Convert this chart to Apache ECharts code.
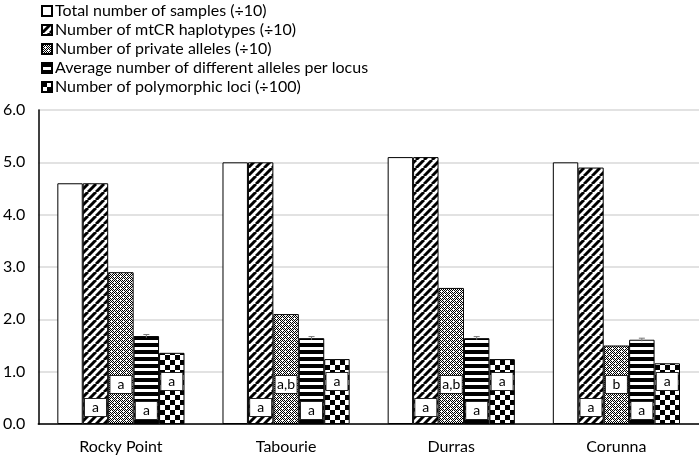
<!DOCTYPE html>
<html>
<head>
<meta charset="utf-8">
<script src="https://cdn.jsdelivr.net/npm/echarts@6/dist/echarts.min.js"></script>
<style>
  html, body { margin: 0; padding: 0; background: #fff; }
  #chart { width: 699px; height: 455px; }
</style>
</head>
<body>
<div id="chart"></div>
<script>
// sites and values
const categories = ['Rocky Point', 'Tabourie', 'Durras', 'Corunna'];
const seriesNames = [
  'Total number of samples (÷10)',
  'Number of mtCR haplotypes (÷10)',
  'Number of private alleles (÷10)',
  'Average number of different alleles per locus',
  'Number of polymorphic loci (÷100)'
];
const totalSamples = [4.6, 5.0, 5.1, 5.0];
const mtcrHaplotypes = [4.6, 5.0, 5.1, 4.9];
const privateAlleles = [2.9, 2.1, 2.6, 1.5];
const avgAlleles = [1.68, 1.64, 1.64, 1.61];
const avgAllelesErr = [0.03, 0.03, 0.03, 0.03];
const polymorphicLoci = [1.36, 1.24, 1.24, 1.16];

// significance letters
const haplotypeLetters = ['a', 'a', 'a', 'a'];
const privateLetters = ['a', 'a,b', 'a,b', 'b'];
const avgLetters = ['a', 'a', 'a', 'a'];
const lociLetters = ['a', 'a', 'a', 'a'];

const yTicks = [0, 1, 2, 3, 4, 5, 6];

const FONT = 'Lato';

// fill patterns
function tile(w, h, draw) {
  let c = document.createElement('canvas');
  c.width = w; c.height = h;
  let ctx = c.getContext('2d');
  ctx.fillStyle = '#fff';
  ctx.fillRect(0, 0, w, h);
  ctx.fillStyle = '#000';
  ctx.strokeStyle = '#000';
  draw(ctx);
  return { image: c, repeat: 'repeat' };
}

let diagFill = tile(8, 8, ctx => {
  ctx.lineWidth = 3;
  for (let o of [-8, 0, 8]) {
    ctx.beginPath();
    ctx.moveTo(o, 8);
    ctx.lineTo(o + 8, 0);
    ctx.stroke();
  }
});

let dotFill = tile(6, 6, ctx => {
  for (let y = 0; y < 6; y++) {
    for (let x = 0; x < 6; x++) {
      if ((x + y) % 2 === 0) ctx.fillRect(x, y, 1, 1);
    }
  }
  ctx.fillStyle = '#fff';
  ctx.fillRect(0, 0, 1, 1);
  ctx.fillRect(3, 3, 1, 1);
});

let stripeFill = tile(7, 7, ctx => {
  ctx.fillRect(0, 0, 7, 4);
});

let checkFill = tile(10, 10, ctx => {
  ctx.fillRect(0, 0, 5, 5);
  ctx.fillRect(5, 5, 5, 5);
});

const catGap = 0.23;

function letterLabel(letters, dist) {
  return {
    show: true,
    position: 'insideBottom',
    distance: dist,
    formatter: p => letters[p.dataIndex],
    backgroundColor: '#fff',
    borderColor: '#222',
    borderWidth: 1,
    width: 19,
    height: 15,
    lineHeight: 15,
    align: 'center',
    padding: [1, 1, 1, 1],
    color: '#000',
    fontSize: 14,
    fontFamily: FONT
  };
}

function barSeries(name, data, fill, label) {
  let s = {
    name: name,
    type: 'bar',
    data: data,
    barGap: '0%',
    barCategoryGap: (catGap * 100) + '%',
    itemStyle: { color: fill, borderColor: '#000', borderWidth: 1 }
  };
  if (label) s.label = label;
  return s;
}

let errData = categories.map((c, i) => [i, avgAlleles[i], avgAllelesErr[i]]);

let chart = echarts.init(document.getElementById('chart'), null, { renderer: 'canvas' });

chart.setOption({
  animation: false,
  textStyle: { fontFamily: FONT },
  legend: {
    data: seriesNames,
    orient: 'vertical',
    left: 36,
    top: -2,
    itemWidth: 10,
    itemHeight: 10,
    itemGap: 3,
    icon: 'rect',
    selectedMode: false,
    textStyle: { fontSize: 16, color: '#000', fontFamily: FONT, padding: [0, 0, 0, -2] }
  },
  grid: { left: 37, right: 0, top: 110, bottom: 31 },
  xAxis: {
    type: 'category',
    data: categories,
    axisLine: { lineStyle: { color: '#000', width: 1.5 } },
    axisTick: { show: false },
    axisLabel: { color: '#000', fontSize: 16, margin: 15, fontFamily: FONT }
  },
  yAxis: {
    type: 'value',
    min: yTicks[0],
    max: yTicks[yTicks.length - 1],
    interval: 1,
    axisLine: { show: true, lineStyle: { color: '#000', width: 1.5 } },
    axisTick: { show: false },
    axisLabel: {
      color: '#000',
      fontSize: 16,
      margin: 13,
      fontFamily: FONT,
      formatter: v => v.toFixed(1)
    },
    splitLine: { lineStyle: { color: '#d9d9d9', width: 1.5 } }
  },
  series: [
    barSeries(seriesNames[0], totalSamples, '#fff'),
    barSeries(seriesNames[1], mtcrHaplotypes, diagFill, letterLabel(haplotypeLetters, 8)),
    barSeries(seriesNames[2], privateAlleles, dotFill, letterLabel(privateLetters, 31)),
    barSeries(seriesNames[3], avgAlleles, stripeFill, letterLabel(avgLetters, 5)),
    barSeries(seriesNames[4], polymorphicLoci, checkFill, letterLabel(lociLetters, 34)),
    {
      type: 'custom',
      name: 'err',
      data: errData,
      encode: { x: 0, y: 1 },
      z: 5,
      renderItem: (params, api) => {
        let i = api.value(0);
        let v = api.value(1);
        let e = api.value(2);
        let bandW = api.size([1, 0])[0];
        let barW = bandW * (1 - catGap) / 5;
        let cx = api.coord([i, v])[0] + barW;
        let top = api.coord([i, v + e])[1];
        let bot = api.coord([i, v - e])[1];
        let st = { stroke: '#777', lineWidth: 1 };
        return {
          type: 'group',
          children: [
            { type: 'line', shape: { x1: cx, y1: top, x2: cx, y2: bot }, style: st },
            { type: 'line', shape: { x1: cx - 3, y1: top, x2: cx + 3, y2: top }, style: st }
          ]
        };
      }
    }
  ]
});
</script>
</body>
</html>
